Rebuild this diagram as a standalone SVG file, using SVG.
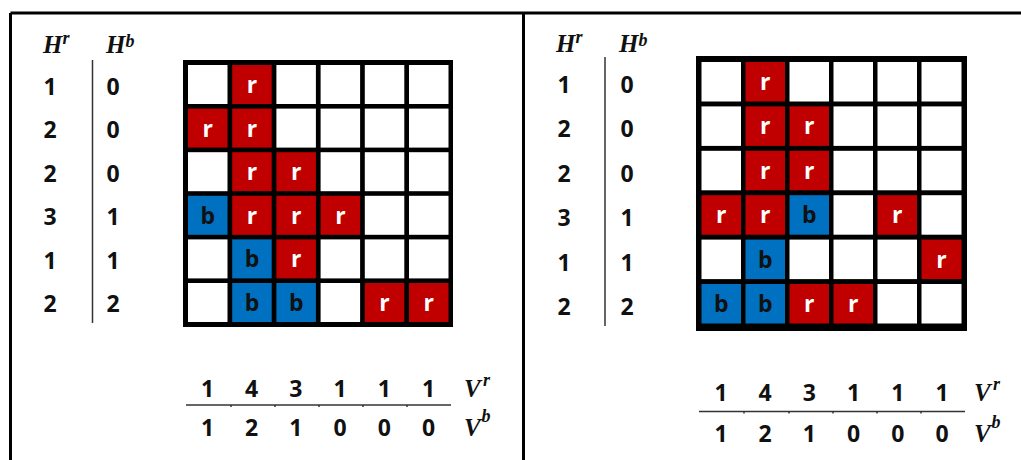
<svg xmlns="http://www.w3.org/2000/svg" width="1021" height="460" viewBox="0 0 1021 460">
<style>
.num{font-family:"Open Sans","Noto Sans",sans-serif;font-weight:bold;font-size:23px;fill:#111;text-anchor:middle}
.lab{font-family:"Liberation Serif",serif;font-weight:bold;font-style:italic;font-size:25px;fill:#111}
.sup{font-family:"Liberation Serif",serif;font-weight:bold;font-style:italic;font-size:18px;fill:#111}
.w{fill:#fff}
.r{fill:#C00000}
.b{fill:#0070C0}
.lr{font-family:"Open Sans","Noto Sans",sans-serif;font-weight:bold;font-size:23px;fill:#fff;text-anchor:middle}
.lb{font-family:"Open Sans","Noto Sans",sans-serif;font-weight:bold;font-size:23px;fill:#111;text-anchor:middle}
.thin{stroke:#333;stroke-width:1.5;fill:none}
.frame{stroke:#000;stroke-width:3;fill:none}
</style>
<rect width="1021" height="460" fill="#fff"/>
<g id="frame">
<line class="frame" x1="10.5" y1="13" x2="1021" y2="13"/>
<line class="frame" x1="10.5" y1="13" x2="10.5" y2="460"/>
<line class="frame" x1="523.5" y1="13" x2="523.5" y2="460"/>
</g>
<!-- LEFT PANEL -->
<g id="left-headers">
<text class="lab" x="43" y="53">H</text><text class="sup" x="62.5" y="44">r</text>
<text class="lab" x="106" y="53">H</text><text class="sup" x="125.5" y="47">b</text>
<line class="thin" x1="92.5" y1="60" x2="92.5" y2="323"/>
<text class="num" x="50" y="95">1</text><text class="num" x="113" y="95">0</text>
<text class="num" x="50" y="138.4">2</text><text class="num" x="113" y="138.4">0</text>
<text class="num" x="50" y="181.8">2</text><text class="num" x="113" y="181.8">0</text>
<text class="num" x="50" y="225.2">3</text><text class="num" x="113" y="225.2">1</text>
<text class="num" x="50" y="268.6">1</text><text class="num" x="113" y="268.6">1</text>
<text class="num" x="50" y="312">2</text><text class="num" x="113" y="312">2</text>
</g>
<g id="left-grid">
<rect x="183" y="60" width="270" height="267" fill="#000"/>
<!-- row1 -->
<rect class="w" x="188" y="65" width="39.5" height="39"/>
<rect class="r" x="232.2" y="65" width="39.5" height="39"/><text class="lr" x="252" y="93">r</text>
<rect class="w" x="276.4" y="65" width="39.5" height="39"/>
<rect class="w" x="320.6" y="65" width="39.5" height="39"/>
<rect class="w" x="364.8" y="65" width="39.5" height="39"/>
<rect class="w" x="409" y="65" width="39.5" height="39"/>
<!-- row2 -->
<rect class="r" x="188" y="108.6" width="39.5" height="39"/><text class="lr" x="207.8" y="136.6">r</text>
<rect class="r" x="232.2" y="108.6" width="39.5" height="39"/><text class="lr" x="252" y="136.6">r</text>
<rect class="w" x="276.4" y="108.6" width="39.5" height="39"/>
<rect class="w" x="320.6" y="108.6" width="39.5" height="39"/>
<rect class="w" x="364.8" y="108.6" width="39.5" height="39"/>
<rect class="w" x="409" y="108.6" width="39.5" height="39"/>
<!-- row3 -->
<rect class="w" x="188" y="152.2" width="39.5" height="39"/>
<rect class="r" x="232.2" y="152.2" width="39.5" height="39"/><text class="lr" x="252" y="180.2">r</text>
<rect class="r" x="276.4" y="152.2" width="39.5" height="39"/><text class="lr" x="296.2" y="180.2">r</text>
<rect class="w" x="320.6" y="152.2" width="39.5" height="39"/>
<rect class="w" x="364.8" y="152.2" width="39.5" height="39"/>
<rect class="w" x="409" y="152.2" width="39.5" height="39"/>
<!-- row4 -->
<rect class="b" x="188" y="195.8" width="39.5" height="39"/><text class="lb" x="207.8" y="223.8">b</text>
<rect class="r" x="232.2" y="195.8" width="39.5" height="39"/><text class="lr" x="252" y="223.8">r</text>
<rect class="r" x="276.4" y="195.8" width="39.5" height="39"/><text class="lr" x="296.2" y="223.8">r</text>
<rect class="r" x="320.6" y="195.8" width="39.5" height="39"/><text class="lr" x="340.4" y="223.8">r</text>
<rect class="w" x="364.8" y="195.8" width="39.5" height="39"/>
<rect class="w" x="409" y="195.8" width="39.5" height="39"/>
<!-- row5 -->
<rect class="w" x="188" y="239.4" width="39.5" height="39"/>
<rect class="b" x="232.2" y="239.4" width="39.5" height="39"/><text class="lb" x="252" y="267.4">b</text>
<rect class="r" x="276.4" y="239.4" width="39.5" height="39"/><text class="lr" x="296.2" y="267.4">r</text>
<rect class="w" x="320.6" y="239.4" width="39.5" height="39"/>
<rect class="w" x="364.8" y="239.4" width="39.5" height="39"/>
<rect class="w" x="409" y="239.4" width="39.5" height="39"/>
<!-- row6 -->
<rect class="w" x="188" y="283" width="39.5" height="39"/>
<rect class="b" x="232.2" y="283" width="39.5" height="39"/><text class="lb" x="252" y="311">b</text>
<rect class="b" x="276.4" y="283" width="39.5" height="39"/><text class="lb" x="296.2" y="311">b</text>
<rect class="w" x="320.6" y="283" width="39.5" height="39"/>
<rect class="r" x="364.8" y="283" width="39.5" height="39"/><text class="lr" x="384.6" y="311">r</text>
<rect class="r" x="409" y="283" width="39.5" height="39"/><text class="lr" x="428.8" y="311">r</text>
</g>
<g id="left-footer">
<text class="num" x="207.5" y="397">1</text>
<text class="num" x="251.7" y="397">4</text>
<text class="num" x="295.9" y="397">3</text>
<text class="num" x="340.1" y="397">1</text>
<text class="num" x="384.3" y="397">1</text>
<text class="num" x="428.5" y="397">1</text>
<text class="lab" x="464" y="397">V</text><text class="sup" x="483" y="386">r</text>
<line class="thin" x1="186" y1="405" x2="451" y2="405"/>
<path class="thin" d="M231 405v2M275 405v2M319 405v2M363 405v2M407 405v2"/>
<text class="num" x="207.5" y="436">1</text>
<text class="num" x="251.7" y="436">2</text>
<text class="num" x="295.9" y="436">1</text>
<text class="num" x="340.1" y="436">0</text>
<text class="num" x="384.3" y="436">0</text>
<text class="num" x="428.5" y="436">0</text>
<text class="lab" x="464" y="436">V</text><text class="sup" x="481.5" y="422">b</text>
</g>
<!-- RIGHT PANEL -->
<g id="right-headers">
<text class="lab" x="556" y="52">H</text><text class="sup" x="575.5" y="43">r</text>
<text class="lab" x="619" y="52">H</text><text class="sup" x="638.5" y="46">b</text>
<line class="thin" x1="605" y1="57" x2="605" y2="326"/>
<text class="num" x="564" y="93">1</text><text class="num" x="627" y="93">0</text>
<text class="num" x="564" y="137">2</text><text class="num" x="627" y="137">0</text>
<text class="num" x="564" y="182">2</text><text class="num" x="627" y="182">0</text>
<text class="num" x="564" y="226">3</text><text class="num" x="627" y="226">1</text>
<text class="num" x="564" y="271">1</text><text class="num" x="627" y="271">1</text>
<text class="num" x="564" y="315">2</text><text class="num" x="627" y="315">2</text>
</g>
<g id="right-grid">
<rect x="696" y="56" width="271" height="275" fill="#000"/>
<!-- row1 -->
<rect class="w" x="701.5" y="62" width="39.5" height="39.5"/>
<rect class="r" x="745.5" y="62" width="39.5" height="39.5"/><text class="lr" x="765.3" y="90">r</text>
<rect class="w" x="789.5" y="62" width="39.5" height="39.5"/>
<rect class="w" x="833.5" y="62" width="39.5" height="39.5"/>
<rect class="w" x="877.5" y="62" width="39.5" height="39.5"/>
<rect class="w" x="921.5" y="62" width="40" height="39.5"/>
<!-- row2 -->
<rect class="w" x="701.5" y="106.4" width="39.5" height="39.5"/>
<rect class="r" x="745.5" y="106.4" width="39.5" height="39.5"/><text class="lr" x="765.3" y="134.4">r</text>
<rect class="r" x="789.5" y="106.4" width="39.5" height="39.5"/><text class="lr" x="809.3" y="134.4">r</text>
<rect class="w" x="833.5" y="106.4" width="39.5" height="39.5"/>
<rect class="w" x="877.5" y="106.4" width="39.5" height="39.5"/>
<rect class="w" x="921.5" y="106.4" width="40" height="39.5"/>
<!-- row3 -->
<rect class="w" x="701.5" y="150.8" width="39.5" height="39.5"/>
<rect class="r" x="745.5" y="150.8" width="39.5" height="39.5"/><text class="lr" x="765.3" y="178.8">r</text>
<rect class="r" x="789.5" y="150.8" width="39.5" height="39.5"/><text class="lr" x="809.3" y="178.8">r</text>
<rect class="w" x="833.5" y="150.8" width="39.5" height="39.5"/>
<rect class="w" x="877.5" y="150.8" width="39.5" height="39.5"/>
<rect class="w" x="921.5" y="150.8" width="40" height="39.5"/>
<!-- row4 -->
<rect class="r" x="701.5" y="195.2" width="39.5" height="39.5"/><text class="lr" x="721.3" y="223.2">r</text>
<rect class="r" x="745.5" y="195.2" width="39.5" height="39.5"/><text class="lr" x="765.3" y="223.2">r</text>
<rect class="b" x="789.5" y="195.2" width="39.5" height="39.5"/><text class="lb" x="809.3" y="223.2">b</text>
<rect class="w" x="833.5" y="195.2" width="39.5" height="39.5"/>
<rect class="r" x="877.5" y="195.2" width="39.5" height="39.5"/><text class="lr" x="897.3" y="223.2">r</text>
<rect class="w" x="921.5" y="195.2" width="40" height="39.5"/>
<!-- row5 -->
<rect class="w" x="701.5" y="239.6" width="39.5" height="39.5"/>
<rect class="b" x="745.5" y="239.6" width="39.5" height="39.5"/><text class="lb" x="765.3" y="267.6">b</text>
<rect class="w" x="789.5" y="239.6" width="39.5" height="39.5"/>
<rect class="w" x="833.5" y="239.6" width="39.5" height="39.5"/>
<rect class="w" x="877.5" y="239.6" width="39.5" height="39.5"/>
<rect class="r" x="921.5" y="239.6" width="40" height="39.5"/><text class="lr" x="941.5" y="267.6">r</text>
<!-- row6 -->
<rect class="b" x="701.5" y="284" width="39.5" height="39.5"/><text class="lb" x="721.3" y="312">b</text>
<rect class="b" x="745.5" y="284" width="39.5" height="39.5"/><text class="lb" x="765.3" y="312">b</text>
<rect class="r" x="789.5" y="284" width="39.5" height="39.5"/><text class="lr" x="809.3" y="312">r</text>
<rect class="r" x="833.5" y="284" width="39.5" height="39.5"/><text class="lr" x="853.3" y="312">r</text>
<rect class="w" x="877.5" y="284" width="39.5" height="39.5"/>
<rect class="w" x="921.5" y="284" width="40" height="39.5"/>
</g>
<g id="right-footer">
<text class="num" x="721" y="401">1</text>
<text class="num" x="765.2" y="401">4</text>
<text class="num" x="809.4" y="401">3</text>
<text class="num" x="853.6" y="401">1</text>
<text class="num" x="897.8" y="401">1</text>
<text class="num" x="942" y="401">1</text>
<text class="lab" x="974" y="401">V</text><text class="sup" x="993" y="390">r</text>
<line class="thin" x1="699" y1="411.5" x2="965" y2="411.5"/>
<path class="thin" d="M744 411.5v2M789 411.5v2M833 411.5v2M877 411.5v2M921 411.5v2"/>
<text class="num" x="721" y="442">1</text>
<text class="num" x="765.2" y="442">2</text>
<text class="num" x="809.4" y="442">1</text>
<text class="num" x="853.6" y="442">0</text>
<text class="num" x="897.8" y="442">0</text>
<text class="num" x="942" y="442">0</text>
<text class="lab" x="974" y="442">V</text><text class="sup" x="991.5" y="428">b</text>
</g>
</svg>
